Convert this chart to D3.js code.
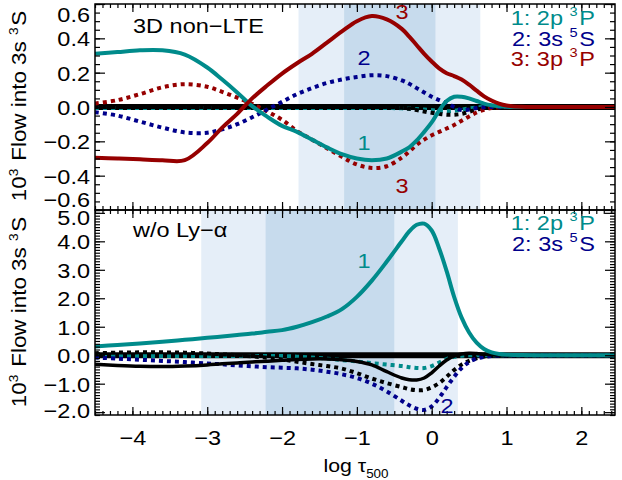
<!DOCTYPE html>
<html><head><meta charset="utf-8">
<script src="https://cdn.jsdelivr.net/npm/d3@7"></script>
<style>
body{margin:0;background:#fff}
text{font-family:"Liberation Sans",Arial,Helvetica,sans-serif}
</style>
</head><body>
<svg id="c" width="622" height="480"></svg>
<script>
// ---------- data ----------
const logTau = [-4.5,-4.2,-3.9,-3.6,-3.3,-3.0,-2.8,-2.6,-2.4,-2.2,-2.0,-1.8,-1.6,-1.4,-1.2,-1.0,-0.8,-0.6,-0.4,-0.3,-0.2,-0.1,0.0,0.1,0.2,0.3,0.4,0.5,0.6,0.7,0.8,0.9,1.0,1.2,1.5,2.0,2.45];

// top panel: 3D non-LTE
const top2p3P_solid = [0.31,0.32,0.33,0.33,0.305,0.23,0.16,0.085,0.005,-0.056,-0.11,-0.145,-0.19,-0.235,-0.275,-0.3,-0.31,-0.3,-0.26,-0.235,-0.195,-0.145,-0.09,-0.02,0.035,0.06,0.06,0.05,0.035,0.02,0.01,0.004,0.001,0,0,0,0];
const top2p3P_dot   = [-0.006,-0.006,-0.006,-0.006,-0.006,-0.006,-0.006,-0.006,-0.006,-0.006,-0.006,-0.006,-0.006,-0.006,-0.006,-0.006,-0.006,-0.006,-0.008,-0.01,-0.012,-0.015,-0.018,-0.022,-0.025,-0.022,-0.015,-0.008,-0.003,0,0,0,0,0,0,0,0];
const top3s5S_dot   = [-0.03,-0.05,-0.085,-0.12,-0.148,-0.15,-0.13,-0.1,-0.06,-0.015,0.03,0.075,0.11,0.14,0.16,0.175,0.185,0.18,0.155,0.135,0.11,0.085,0.06,0.04,0.022,0.0,-0.018,-0.015,-0.006,-0.002,0,0,0,0,0,0,0];
const top3p3P_solid = [-0.295,-0.3,-0.305,-0.31,-0.31,-0.21,-0.12,-0.04,0.05,0.125,0.195,0.255,0.31,0.375,0.44,0.5,0.53,0.51,0.455,0.41,0.36,0.31,0.265,0.225,0.197,0.18,0.16,0.13,0.095,0.062,0.038,0.02,0.009,0.001,0,0,0];
const top3p3P_dot   = [0.02,0.04,0.075,0.115,0.133,0.118,0.088,0.055,0.018,-0.025,-0.075,-0.14,-0.19,-0.24,-0.29,-0.335,-0.355,-0.345,-0.295,-0.26,-0.22,-0.19,-0.165,-0.145,-0.125,-0.105,-0.08,-0.055,-0.032,-0.016,-0.006,-0.002,0,0,0,0,0];
const topTotal_dot  = [0,0,0,0,0,0,0,0,0,0,0,0,0,0,0,0,0,0,-0.005,-0.01,-0.018,-0.026,-0.034,-0.04,-0.045,-0.045,-0.04,-0.028,-0.015,-0.006,-0.002,0,0,0,0,0,0];
const topNet        = logTau.map(() => 0);

// bottom panel: without Ly-alpha
const bot2p3P_solid = [0.31,0.36,0.41,0.47,0.54,0.61,0.66,0.71,0.76,0.82,0.88,1.0,1.16,1.36,1.62,2.05,2.62,3.29,4.0,4.35,4.58,4.62,4.38,3.75,2.95,2.05,1.32,0.8,0.44,0.22,0.1,0.045,0.02,0.003,0,0,0];
const bot2p3P_dot   = [-0.03,-0.03,-0.03,-0.03,-0.03,-0.03,-0.03,-0.03,-0.03,-0.03,-0.03,-0.05,-0.08,-0.12,-0.17,-0.22,-0.28,-0.33,-0.38,-0.42,-0.45,-0.45,-0.38,-0.26,-0.14,-0.06,-0.02,-0.005,0,0,0,0,0,0,0,0,0];
const bot3s5S_dot   = [-0.08,-0.12,-0.16,-0.2,-0.24,-0.29,-0.32,-0.36,-0.39,-0.42,-0.44,-0.46,-0.51,-0.58,-0.67,-0.8,-1.0,-1.27,-1.6,-1.76,-1.88,-1.92,-1.8,-1.5,-1.12,-0.76,-0.45,-0.24,-0.12,-0.06,-0.025,-0.01,0,0,0,0,0];
const botTotal_solid= [-0.32,-0.36,-0.39,-0.4,-0.38,-0.34,-0.3,-0.27,-0.24,-0.21,-0.18,-0.15,-0.13,-0.13,-0.16,-0.22,-0.34,-0.58,-0.8,-0.86,-0.87,-0.8,-0.62,-0.38,-0.17,-0.03,0.04,0.07,0.06,0.035,0.015,0.005,0,0,0,0,0];
const botTotal_dot  = [0.07,0.09,0.1,0.1,0.09,0.06,0.03,0.0,-0.04,-0.09,-0.15,-0.23,-0.31,-0.38,-0.47,-0.63,-0.82,-0.98,-1.12,-1.19,-1.23,-1.22,-1.13,-0.98,-0.76,-0.52,-0.33,-0.2,-0.11,-0.05,-0.02,-0.005,0,0,0,0,0];
const botNet        = logTau.map(() => 0);

// shaded ranges in log tau
const topBandLight = [-1.78, 0.65];
const topBandDark  = [-1.17, 0.05];
const botBandLight = [-3.08, 0.35];
const botBandDark  = [-2.22, -0.5];

// ticks
const xMajor = [-4,-3,-2,-1,0,1,2];
const topYMajor = [-0.6,-0.4,-0.2,0.0,0.2,0.4,0.6];
const topYLabels = ["−0.6","−0.4","−0.2","0.0","0.2","0.4","0.6"];
const botYMajor = [-2,-1,0,1,2,3,4,5];
const botYLabels = ["−2.0","−1.0","0.0","1.0","2.0","3.0","4.0","5.0"];

// ---------- styles ----------
const TEAL = "#008b8b", NAVY = "#00008b", RED = "#960000";
const LIGHT = "#e5eef8", DARK = "#c7dbed";
const FONT = 21, SX = 1.12;

const svg = d3.select("#c");
const L = 95, R = 615;
const x = d3.scaleLinear().domain([-4.5, 2.45]).range([L, R]);
const panels = [
  {y: d3.scaleLinear().domain([-0.6, 0.6]).range([210, 4]), t: 4, b: 210},
  {y: d3.scaleLinear().domain([-2.1, 5.1]).range([415, 210]), t: 210, b: 415}
];
const P0 = panels[0], P1 = panels[1];

function band(p, r, col) {
  svg.append("rect").attr("x", x(r[0])).attr("y", p.t)
    .attr("width", x(r[1]) - x(r[0])).attr("height", p.b - p.t).attr("fill", col);
}
band(P0, topBandLight, LIGHT); band(P0, topBandDark, DARK);
band(P1, botBandLight, LIGHT); band(P1, botBandDark, DARK);

panels.forEach((p, i) => {
  svg.append("clipPath").attr("id", "clip" + i).append("rect")
    .attr("x", L).attr("y", p.t).attr("width", R - L).attr("height", p.b - p.t);
});

function series(pi, vals, col, w, dotted) {
  const p = panels[pi];
  const line = d3.line().x((d, i) => x(logTau[i])).y(d => p.y(d)).curve(d3.curveCatmullRom.alpha(0.5));
  svg.append("path").attr("d", line(vals)).attr("fill", "none")
    .attr("stroke", col).attr("stroke-width", w)
    .attr("stroke-dasharray", dotted ? "4 4" : null)
    .attr("clip-path", `url(#clip${pi})`);
}
series(0, topNet, "#000", 6, false);
series(0, top2p3P_dot, TEAL, 4, true);
series(0, topTotal_dot, "#000", 4, true);
series(0, top3p3P_dot, RED, 4, true);
series(0, top3s5S_dot, NAVY, 4, true);
series(0, top2p3P_solid, TEAL, 4, false);
series(0, top3p3P_solid, RED, 4, false);

series(1, botNet, "#000", 6, false);
series(1, bot2p3P_dot, TEAL, 4, true);
series(1, botTotal_dot, "#000", 4, true);
series(1, bot3s5S_dot, NAVY, 4, true);
series(1, botTotal_solid, "#000", 3.5, false);
series(1, bot2p3P_solid, TEAL, 4, false);

// ---------- axes ----------
function range(a, b, s) { const out = []; for (let v = a; v <= b + 1e-9; v += s) out.push(+v.toFixed(4)); return out; }
const xMinor = range(-4.5, 2.45, 0.1);
function styleAxis(g) { g.select(".domain").remove(); g.selectAll("line").attr("stroke", "#000").attr("stroke-width", 1.2); }

panels.forEach((p, i) => {
  [[d3.axisBottom, p.b], [d3.axisTop, p.t]].forEach(([ax, yy]) => {
    svg.append("g").attr("transform", `translate(0,${yy})`)
      .call(ax(x).tickValues(xMinor).tickSize(-4).tickFormat("")).call(styleAxis);
    svg.append("g").attr("transform", `translate(0,${yy})`)
      .call(ax(x).tickValues(xMajor).tickSize(-8).tickFormat("")).call(styleAxis);
  });
  const yMinor = i === 0 ? range(-0.6, 0.6, 0.05) : range(-2.1, 5.1, 0.1);
  const yMajor = i === 0 ? topYMajor : botYMajor;
  [[d3.axisLeft, L], [d3.axisRight, R]].forEach(([ax, xx]) => {
    svg.append("g").attr("transform", `translate(${xx},0)`)
      .call(ax(p.y).tickValues(yMinor).tickSize(-5).tickFormat("")).call(styleAxis);
    svg.append("g").attr("transform", `translate(${xx},0)`)
      .call(ax(p.y).tickValues(yMajor).tickSize(-10).tickFormat("")).call(styleAxis);
  });
});

// horizontal stretch of text glyphs about their anchor x
function stretch(sel) {
  sel.each(function () {
    const ax = +(this.getAttribute("x") || 0);
    const prev = this.getAttribute("transform") || "";
    this.setAttribute("transform", `${prev} translate(${ax},0) scale(${SX},1) translate(${-ax},0)`);
  });
}

function yLabels(p, vals, labels, shift) {
  const g = svg.append("g").attr("transform", `translate(${L},0)`)
    .call(d3.axisLeft(p.y).tickValues(vals).tickSize(0).tickPadding(5)
      .tickFormat((d, i) => labels[i]));
  g.select(".domain").remove();
  g.selectAll("text").attr("font-size", FONT).attr("fill", "#000")
    .attr("font-family", "Liberation Sans, Arial, sans-serif")
    .attr("dy", (d, i) => (shift[i] || 0) + 7.5);
  stretch(g.selectAll("text"));
}
yLabels(P0, topYMajor, topYLabels, {0: -11, 6: 10});
yLabels(P1, botYMajor, botYLabels, {0: -2, 7: 4});

const xl = svg.append("g").attr("transform", `translate(0,${P1.b})`)
  .call(d3.axisBottom(x).tickValues(xMajor).tickSize(0).tickPadding(15).tickFormat(d3.format("d")));
xl.select(".domain").remove();
xl.selectAll("text").attr("font-size", FONT).attr("fill", "#000").attr("font-family", "Liberation Sans, Arial, sans-serif");
stretch(xl.selectAll("text"));

panels.forEach(p => {
  svg.append("rect").attr("x", L).attr("y", p.t).attr("width", R - L).attr("height", p.b - p.t)
    .attr("fill", "none").attr("stroke", "#000").attr("stroke-width", 1.5);
});

// ---------- text ----------
function richText(xp, yp, parts, col, anchor, size, transform) {
  const t = svg.append("text").attr("x", xp).attr("y", yp).attr("fill", col)
    .attr("font-size", size).attr("text-anchor", anchor);
  let prevSup = false;
  parts.forEach(([s, sup]) => {
    const sp = t.append("tspan").text(s);
    if (sup) sp.attr("font-size", size * 0.62).attr("dy", -size * 0.42);
    else if (prevSup) sp.attr("dy", size * 0.42).attr("dx", 1.5);
    prevSup = !!sup;
  });
  if (transform) t.attr("transform", transform); else stretch(t);
  return t;
}

stretch(svg.append("text").attr("x", 133).attr("y", 33).attr("font-size", FONT).text("3D non−LTE"));
stretch(svg.append("text").attr("x", 133).attr("y", 237).attr("font-size", FONT).text("w/o Ly−α"));

const LX = 595;
richText(LX, 25, [["1: 2p ", 0], ["3", 1], ["P", 0]], TEAL, "end", FONT);
richText(LX, 46, [["2: 3s ", 0], ["5", 1], ["S", 0]], NAVY, "end", FONT);
richText(LX, 66, [["3: 3p ", 0], ["3", 1], ["P", 0]], RED, "end", FONT);
richText(LX, 230, [["1: 2p ", 0], ["3", 1], ["P", 0]], TEAL, "end", FONT);
richText(LX, 251, [["2: 3s ", 0], ["5", 1], ["S", 0]], NAVY, "end", FONT);

[[402, 19, "3", RED], [364, 65, "2", NAVY], [364, 150, "1", TEAL], [402, 193, "3", RED],
 [364, 268, "1", TEAL], [447, 413, "2", NAVY]].forEach(([a, b, s, c]) => {
  stretch(svg.append("text").attr("x", a).attr("y", b).attr("fill", c).attr("font-size", FONT)
    .attr("text-anchor", "middle").text(s));
});

[106, 312].forEach(cy => {
  richText(0, 0, [["10", 0], ["3", 1], [" Flow into 3s ", 0], ["3", 1], ["S", 0]], "#000", "middle", 20,
    `translate(26,${cy}) rotate(-90) scale(${SX},1)`);
});
const xt = svg.append("text").attr("x", 356).attr("y", 472).attr("font-size", 19).attr("text-anchor", "middle");
xt.append("tspan").text("log τ");
xt.append("tspan").attr("font-size", 12).attr("dy", 6).text("500");
stretch(xt);
</script>
</body></html>
